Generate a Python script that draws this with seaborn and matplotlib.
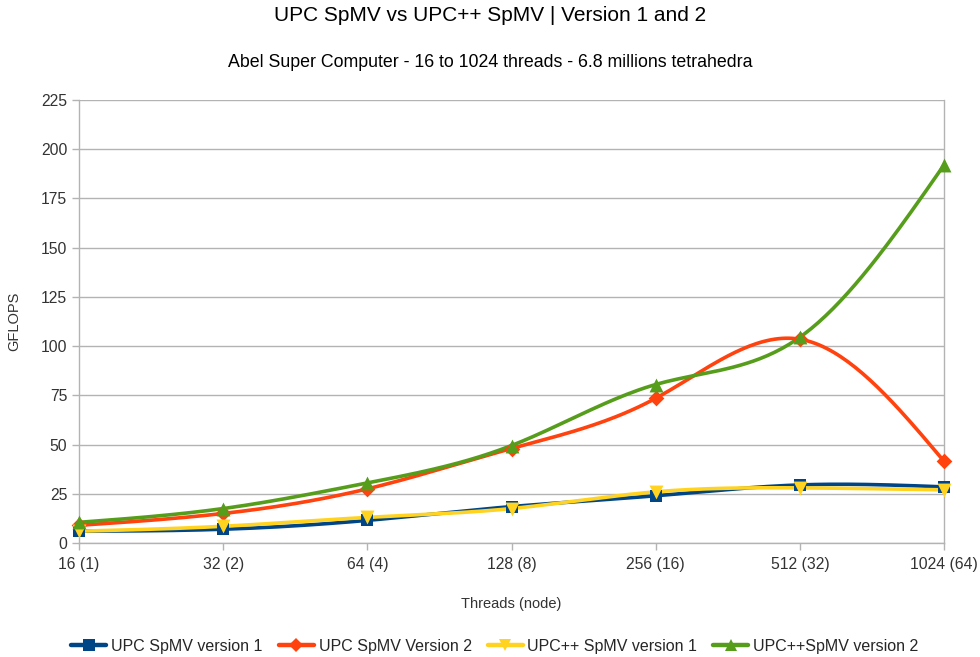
import numpy as np
import pandas as pd
import seaborn as sns
import matplotlib.pyplot as plt
from matplotlib.lines import Line2D

threads = ["16 (1)", "32 (2)", "64 (4)", "128 (8)", "256 (16)", "512 (32)", "1024 (64)"]
upc_v1 = [6, 7, 11.5, 18.5, 24, 29.5, 28.5]
upc_v2 = [9, 15, 27.5, 48, 73.5, 103.5, 41.5]
upcpp_v1 = [6, 8.5, 13, 17.5, 26, 28, 27]
upcpp_v2 = [10.5, 17.5, 30.5, 49.5, 80.5, 104.5, 192]

series = [
    ("UPC SpMV version 1", upc_v1, "#004586", "s", 9),
    ("UPC SpMV Version 2", upc_v2, "#ff420e", "D", 8),
    ("UPC++ SpMV version 1", upcpp_v1, "#ffd320", "v", 10),
    ("UPC++SpMV version 2", upcpp_v2, "#579d1c", "^", 10),
]


def natural_spline(y, n=40):
    # natural cubic spline through the points at x = 0..len-1, just for the smooth line look
    y = np.asarray(y, float)
    m = len(y)
    A = np.zeros((m, m))
    r = np.zeros(m)
    A[0, 0] = A[-1, -1] = 1
    for i in range(1, m - 1):
        A[i, i - 1], A[i, i], A[i, i + 1] = 1, 4, 1
        r[i] = 6 * (y[i + 1] - 2 * y[i] + y[i - 1])
    M = np.linalg.solve(A, r)
    xs, ys = [], []
    for i in range(m - 1):
        t = np.linspace(0, 1, n, endpoint=(i == m - 2))
        a = y[i]
        b = y[i + 1] - y[i] - (2 * M[i] + M[i + 1]) / 6
        c = M[i] / 2
        d = (M[i + 1] - M[i]) / 6
        xs.append(i + t)
        ys.append(a + b * t + c * t ** 2 + d * t ** 3)
    return np.concatenate(xs), np.concatenate(ys)


sns.set_theme(style="whitegrid")
plt.rcParams['font.family'] = ['Liberation Sans', 'DejaVu Sans']

fig = plt.figure(figsize=(9.8, 6.57), dpi=100)
ax = fig.add_axes([0.0806, 0.1735, 0.8827, 0.6743])

handles = []
for name, vals, color, marker, ms in series:
    xs, ys = natural_spline(vals)
    curve = pd.DataFrame({"x": xs, "y": ys})
    sns.lineplot(data=curve, x="x", y="y", color=color, lw=2.6, ax=ax, zorder=3)
    pts = pd.DataFrame({"x": np.arange(len(vals)), "y": vals})
    sns.scatterplot(data=pts, x="x", y="y", color=color, marker=marker, s=ms ** 2,
                    edgecolor=color, linewidth=0, ax=ax, zorder=4, clip_on=False)
    handles.append(Line2D([], [], color=color, lw=3.2, marker=marker, markersize=ms - 1,
                          markeredgewidth=0, label=name))

ax.set_xlim(0, 6)
ax.set_ylim(0, 225)
ax.set_xticks(range(7))
ax.set_xticklabels(threads)
ax.set_yticks(range(0, 226, 25))
ax.grid(axis='y', color='#b3b3b3', lw=1)
ax.grid(axis='x', visible=False)
for s in ['left', 'bottom', 'right']:
    ax.spines[s].set_color('#b3b3b3')
    ax.spines[s].set_linewidth(1)
ax.spines['top'].set_visible(False)
ax.tick_params(axis='both', length=5, color='#b3b3b3', width=1, labelsize=11.3,
               labelcolor='#333333', direction='out', bottom=True, left=True)
ax.tick_params(axis='x', pad=5)
ax.set_xlabel("Threads (node)", fontsize=10.5, color='#333333', labelpad=18)
ax.set_ylabel("GFLOPS", fontsize=10.5, color='#333333', labelpad=14)

fig.text(0.5, 0.977, "UPC SpMV vs UPC++ SpMV | Version 1 and 2", ha='center', va='center',
         fontsize=15, color='#000000')
fig.text(0.5, 0.905, "Abel Super Computer - 16 to 1024 threads - 6.8 millions tetrahedra",
         ha='center', va='center', fontsize=12.8, color='#000000')

fig.legend(handles=handles, loc='center', bbox_to_anchor=(0.505, 0.016), ncol=4, frameon=False,
           fontsize=11.5, handlelength=2.2, handletextpad=0.3, columnspacing=1.0)

fig.savefig("out.png", dpi=100)
